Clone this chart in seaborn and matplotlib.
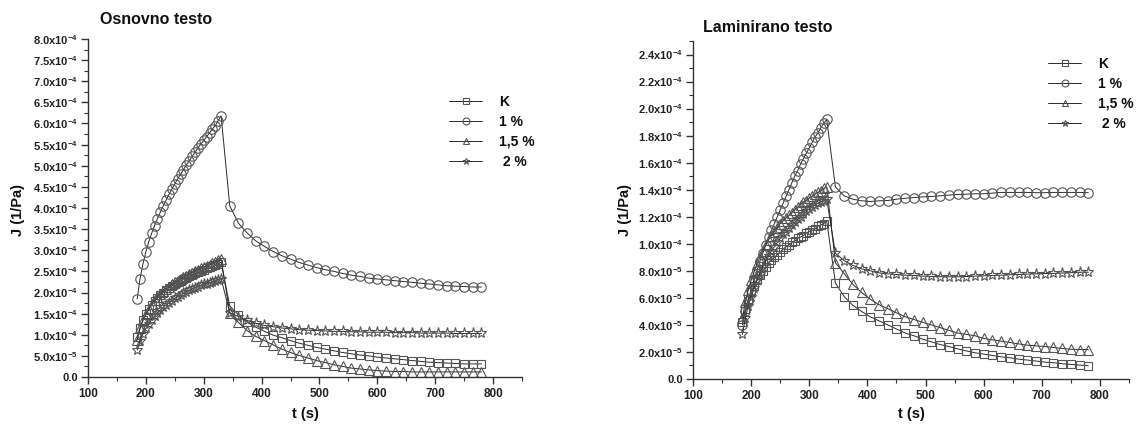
import matplotlib
matplotlib.use("Agg")
import matplotlib.pyplot as plt
from matplotlib.lines import Line2D
from matplotlib.ticker import MultipleLocator, FixedLocator, FuncFormatter
import seaborn as sns
import pandas as pd
import numpy as np

# ---------------- data (J in units of 1e-4 1/Pa) ----------------
t_creep = [185, 190, 195, 200, 205, 210, 215, 220, 225, 230, 235, 240, 245, 250, 255,
           260, 265, 270, 275, 280, 285, 290, 295, 300, 305, 310, 315, 320, 325, 330]
t_recov = [345, 360, 375, 390, 405, 420, 435, 450, 465, 480, 495, 510, 525, 540, 555,
           570, 585, 600, 615, 630, 645, 660, 675, 690, 705, 720, 735, 750, 765, 780]

series_labels = ["K", "1 %", "1,5 %", " 2 %"]

# Osnovno testo
osn_K_creep = [0.95, 1.17, 1.34, 1.48, 1.60, 1.70, 1.79, 1.87, 1.94, 2.00, 2.06, 2.11, 2.16, 2.20, 2.24,
               2.28, 2.32, 2.35, 2.39, 2.42, 2.45, 2.48, 2.51, 2.54, 2.57, 2.60, 2.62, 2.65, 2.68, 2.72]
osn_K_recov = [1.68, 1.47, 1.31, 1.18, 1.08, 0.99, 0.93, 0.86, 0.80, 0.75, 0.70, 0.66, 0.62, 0.58, 0.55,
               0.52, 0.50, 0.47, 0.45, 0.43, 0.41, 0.39, 0.37, 0.35, 0.34, 0.33, 0.32, 0.31, 0.31, 0.31]
osn_1_creep = [1.85, 2.33, 2.68, 2.96, 3.20, 3.40, 3.58, 3.75, 3.90, 4.05, 4.19, 4.32, 4.45, 4.57, 4.69,
               4.80, 4.91, 5.02, 5.12, 5.22, 5.32, 5.42, 5.51, 5.60, 5.69, 5.78, 5.87, 5.95, 6.07, 6.18]
osn_1_recov = [4.05, 3.64, 3.41, 3.22, 3.09, 2.97, 2.87, 2.79, 2.71, 2.65, 2.59, 2.54, 2.50, 2.45, 2.41,
               2.38, 2.34, 2.32, 2.30, 2.28, 2.26, 2.24, 2.22, 2.20, 2.18, 2.16, 2.15, 2.14, 2.13, 2.13]
osn_15_creep = [0.88, 1.15, 1.35, 1.50, 1.62, 1.73, 1.82, 1.90, 1.97, 2.03, 2.09, 2.14, 2.19, 2.24, 2.28,
                2.32, 2.36, 2.40, 2.44, 2.47, 2.51, 2.54, 2.57, 2.60, 2.63, 2.66, 2.69, 2.72, 2.76, 2.80]
osn_15_recov = [1.51, 1.29, 1.10, 0.96, 0.86, 0.76, 0.66, 0.58, 0.51, 0.45, 0.39, 0.34, 0.29, 0.25, 0.21,
                0.19, 0.17, 0.15, 0.14, 0.13, 0.13, 0.12, 0.12, 0.12, 0.12, 0.12, 0.12, 0.12, 0.12, 0.12]
osn_2_creep = [0.64, 0.86, 1.02, 1.15, 1.26, 1.36, 1.44, 1.52, 1.59, 1.65, 1.71, 1.76, 1.81, 1.86, 1.90,
               1.94, 1.98, 2.02, 2.05, 2.08, 2.11, 2.14, 2.17, 2.19, 2.21, 2.23, 2.25, 2.27, 2.30, 2.33]
osn_2_recov = [1.52, 1.43, 1.34, 1.27, 1.22, 1.19, 1.16, 1.14, 1.12, 1.11, 1.10, 1.09, 1.08, 1.08, 1.07,
               1.07, 1.06, 1.06, 1.06, 1.05, 1.05, 1.05, 1.04, 1.04, 1.04, 1.04, 1.03, 1.03, 1.03, 1.03]

# Laminirano testo
lam_K_creep = [0.42, 0.52, 0.59, 0.64, 0.69, 0.73, 0.77, 0.80, 0.83, 0.86, 0.88, 0.90, 0.92, 0.94, 0.96,
               0.98, 0.99, 1.01, 1.02, 1.04, 1.05, 1.06, 1.08, 1.09, 1.10, 1.11, 1.13, 1.14, 1.15, 1.17]
lam_K_recov = [0.71, 0.61, 0.545, 0.50, 0.46, 0.43, 0.40, 0.37, 0.34, 0.32, 0.295, 0.275, 0.255, 0.24, 0.223,
               0.208, 0.194, 0.184, 0.174, 0.164, 0.157, 0.147, 0.14, 0.133, 0.125, 0.12, 0.113, 0.108, 0.103, 0.098]
lam_1_creep = [0.40, 0.50, 0.58, 0.66, 0.73, 0.80, 0.87, 0.93, 0.99, 1.05, 1.10, 1.15, 1.20, 1.25, 1.30,
               1.35, 1.40, 1.45, 1.50, 1.54, 1.59, 1.63, 1.67, 1.71, 1.75, 1.79, 1.82, 1.86, 1.89, 1.92]
lam_1_recov = [1.42, 1.355, 1.33, 1.318, 1.313, 1.318, 1.32, 1.33, 1.337, 1.342, 1.347, 1.35, 1.355, 1.36, 1.365,
               1.367, 1.37, 1.37, 1.375, 1.38, 1.38, 1.38, 1.38, 1.378, 1.378, 1.38, 1.38, 1.38, 1.38, 1.378]
lam_15_creep = [0.45, 0.57, 0.66, 0.73, 0.79, 0.85, 0.90, 0.95, 0.99, 1.03, 1.06, 1.09, 1.12, 1.15, 1.17,
                1.19, 1.21, 1.23, 1.25, 1.27, 1.29, 1.31, 1.32, 1.34, 1.35, 1.37, 1.38, 1.39, 1.41, 1.42]
lam_15_recov = [0.86, 0.78, 0.70, 0.64, 0.59, 0.55, 0.52, 0.49, 0.46, 0.44, 0.42, 0.40, 0.38, 0.36, 0.34,
                0.33, 0.32, 0.30, 0.29, 0.28, 0.27, 0.26, 0.25, 0.245, 0.24, 0.233, 0.226, 0.22, 0.218, 0.218]
lam_2_creep = [0.33, 0.45, 0.54, 0.61, 0.67, 0.73, 0.78, 0.83, 0.87, 0.91, 0.95, 0.98, 1.01, 1.04, 1.07,
               1.09, 1.12, 1.14, 1.16, 1.18, 1.20, 1.22, 1.24, 1.26, 1.27, 1.29, 1.30, 1.31, 1.32, 1.33]
lam_2_recov = [0.93, 0.876, 0.84, 0.815, 0.80, 0.785, 0.778, 0.773, 0.768, 0.766, 0.761, 0.759, 0.756, 0.756, 0.756,
               0.758, 0.761, 0.763, 0.766, 0.768, 0.771, 0.773, 0.776, 0.778, 0.78, 0.781, 0.784, 0.786, 0.79, 0.79]

titles = ["Osnovno testo", "Laminirano testo"]
x_label = "t (s)"
y_label = "J (1/Pa)"

# ---------------- style ----------------
sns.set_theme(style="white")
plt.rcParams["font.family"] = ["Liberation Sans", "DejaVu Sans"]
plt.rcParams["font.weight"] = "bold"
plt.rcParams["mathtext.fontset"] = "custom"
plt.rcParams["mathtext.rm"] = "Liberation Sans:bold"
plt.rcParams["mathtext.bf"] = "Liberation Sans:bold"
plt.rcParams["mathtext.it"] = "Liberation Sans:bold"

markers = ["s", "o", "^", "*"]
msizes = [6.3, 6.8, 7.3, 8.0]
mec = "#555555"
lc = "#2a2a2a"

fig = plt.figure(figsize=(11.41, 4.29), dpi=100)
axL = fig.add_axes([88 / 1141, 52 / 429, 434 / 1141, 338 / 429])
axR = fig.add_axes([693 / 1141, 50 / 429, 436 / 1141, 338 / 429])


def build_df(creeps, recovs):
    rows = []
    t_all = t_creep + t_recov
    for lab, c, r in zip(series_labels, creeps, recovs):
        for t, v in zip(t_all, list(c) + list(r)):
            rows.append({"t": t, "J": v * 1e-4, "series": lab})
    return pd.DataFrame(rows)


dfL = build_df([osn_K_creep, osn_1_creep, osn_15_creep, osn_2_creep],
               [osn_K_recov, osn_1_recov, osn_15_recov, osn_2_recov])
dfR = build_df([lam_K_creep, lam_1_creep, lam_15_creep, lam_2_creep],
               [lam_K_recov, lam_1_recov, lam_15_recov, lam_2_recov])


def fmt_sci(v, pos):
    if abs(v) < 1e-12:
        return "0.0"
    e = int(np.floor(np.log10(abs(v)) + 1e-9))
    m = v / 10 ** e
    return r"$\mathrm{%.1fx10}^{%d}$" % (m, e)


def draw(ax, df, ymax, ymajor, yminor, title, title_xy, ylab_x, leg_xy):
    for lab, mk, ms in zip(series_labels, markers, msizes):
        sub = df[df["series"] == lab]
        sns.lineplot(data=sub, x="t", y="J", ax=ax, color=lc, linewidth=0.7,
                     marker=mk, markersize=ms, markerfacecolor="none",
                     markeredgecolor=mec, markeredgewidth=0.8, legend=False,
                     errorbar=None, sort=False)
    ax.set_xlim(100, 850)
    ax.set_ylim(0, ymax)
    ax.xaxis.set_major_locator(FixedLocator([100, 200, 300, 400, 500, 600, 700, 800]))
    ax.xaxis.set_minor_locator(MultipleLocator(50))
    ax.yaxis.set_major_locator(MultipleLocator(ymajor))
    ax.yaxis.set_minor_locator(MultipleLocator(yminor))
    ax.yaxis.set_major_formatter(FuncFormatter(fmt_sci))
    for s in ["top", "right"]:
        ax.spines[s].set_visible(False)
    for s in ["left", "bottom"]:
        ax.spines[s].set_color("#333333")
        ax.spines[s].set_linewidth(1.0)
    ax.tick_params(which="major", direction="out", length=5, width=1, color="#333333",
                   left=True, bottom=True, pad=2)
    ax.tick_params(axis="y", which="major", labelsize=8)
    ax.tick_params(axis="x", which="major", labelsize=8.5, pad=3)
    ax.tick_params(which="minor", direction="out", length=3, width=0.8, color="#333333",
                   left=True, bottom=True)
    for lbl in ax.get_xticklabels() + ax.get_yticklabels():
        lbl.set_fontweight("bold")
        lbl.set_color("#222222")
    ax.set_xlabel("")
    ax.set_ylabel("")
    fig.text(title_xy[0] / 1141, 1 - title_xy[1] / 429, title, fontsize=11.5,
             fontweight="bold", ha="left", va="center", color="#111111")
    fig.text(ylab_x / 1141, 1 - 210 / 429, y_label, rotation=90, fontsize=10.5,
             fontweight="bold", ha="center", va="center", color="#111111")
    x_center = (ax.get_position().x0 + ax.get_position().x1) / 2
    fig.text(x_center, 1 - 414 / 429, x_label, fontsize=10.5, fontweight="bold",
             ha="center", va="center", color="#111111")
    handles = [Line2D([], [], color=lc, linewidth=0.7, marker=mk, markersize=5,
                      markerfacecolor="none", markeredgecolor=mec, markeredgewidth=0.8)
               for mk in markers]
    leg = ax.legend(handles, series_labels, frameon=False, loc="upper left",
                    bbox_to_anchor=(leg_xy[0] / 1141, 1 - leg_xy[1] / 429),
                    bbox_transform=fig.transFigure, borderpad=0, borderaxespad=0,
                    handlelength=2.4, handletextpad=1.2, labelspacing=0.42,
                    prop={"weight": "bold", "size": 10})
    for txt in leg.get_texts():
        txt.set_color("#111111")


draw(axL, dfL, 8.0e-4, 0.5e-4, 0.25e-4, titles[0], (100, 20), 18, (449, 95))
draw(axR, dfR, 2.5e-4, 0.2e-4, 0.1e-4, titles[1], (703, 28), 625, (1048, 57))

fig.savefig("out.png", dpi=100)
